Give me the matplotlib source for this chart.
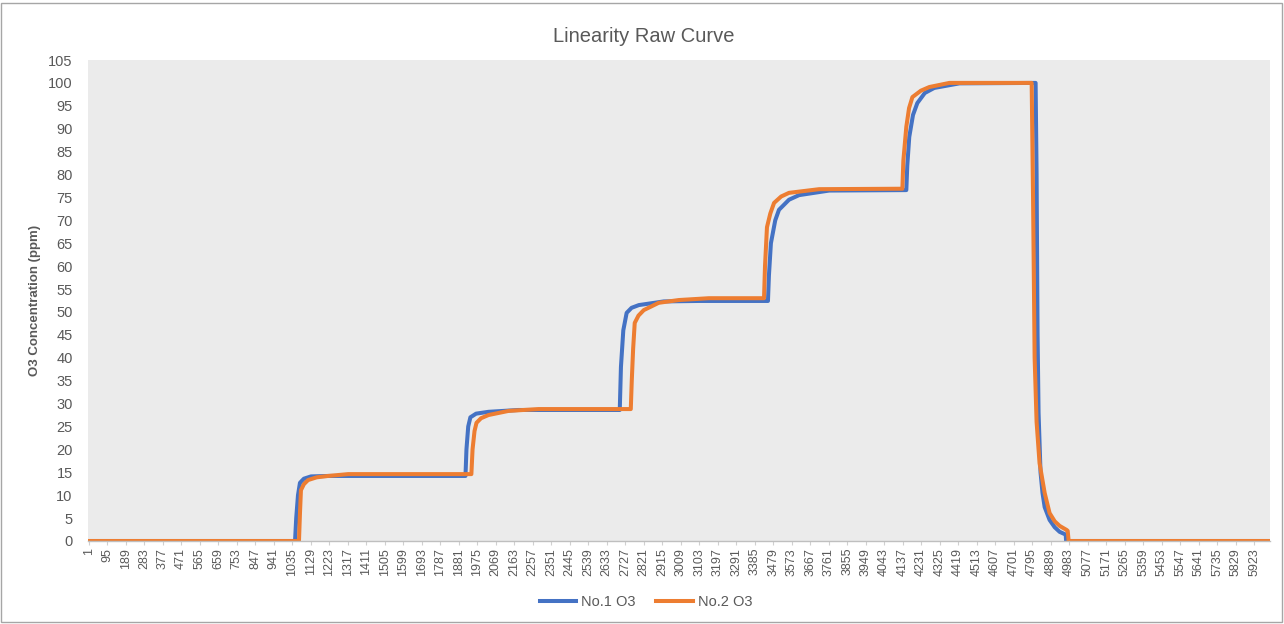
import matplotlib
matplotlib.use("Agg")
import matplotlib.pyplot as plt
from matplotlib.patches import Rectangle

# ---------------------------------------------------------------------------
# Data (sample index, O3 ppm)
# ---------------------------------------------------------------------------
n_samples = 6000

no1_idx = [1, 1050, 1056, 1065, 1075, 1095, 1131, 1218, 1916, 1921, 1930, 1941,
           1970, 2033, 2185, 2700, 2706, 2718, 2735, 2760, 2797, 2924, 3102,
           3453, 3458, 3468, 3490, 3509, 3560, 3611, 3764, 4156, 4161, 4171,
           4190, 4212, 4250, 4298, 4426, 4813, 4818, 4823, 4828, 4838, 4848,
           4859, 4884, 4910, 4935, 4966, 4968, n_samples]
no1_val = [0, 0, 5, 10, 12.7, 13.6, 14.1, 14.2, 14.2, 20, 25, 27,
           27.8, 28.2, 28.6, 28.6, 38, 46, 49.8, 50.9, 51.5, 52.3, 52.4,
           52.4, 58, 65, 70, 72.3, 74.5, 75.5, 76.5, 76.6, 82, 88.2,
           93, 95.6, 97.8, 98.9, 99.9, 100, 80, 45, 28, 15, 10.5,
           7.4, 4.6, 3.0, 2.0, 1.4, 0, 0]

no2_idx = [1, 1070, 1075, 1080, 1095, 1116, 1160, 1218, 1320, 1946, 1952, 1962,
           1972, 1995, 2033, 2135, 2287, 2756, 2761, 2768, 2776, 2795, 2822,
           2898, 3000, 3153, 3433, 3438, 3448, 3465, 3484, 3520, 3560, 3713,
           4136, 4141, 4156, 4170, 4187, 4230, 4273, 4375, 4793, 4800, 4808,
           4818, 4833, 4859, 4884, 4910, 4935, 4971, 4976, 4981, n_samples]
no2_val = [0, 0, 6, 11.1, 12.4, 13.3, 13.9, 14.2, 14.6, 14.6, 20, 24,
           25.8, 26.8, 27.5, 28.4, 28.8, 28.8, 35, 42, 47.6, 49.2, 50.4,
           52.0, 52.6, 53.0, 53.0, 60, 68.5, 71.5, 73.8, 75.2, 76.0, 76.8,
           76.9, 83, 90.4, 94.5, 96.9, 98.3, 99.1, 100, 100, 75, 40,
           26, 17, 10.5, 6.1, 4.3, 3.3, 2.4, 2.2, 0, 0]

tick_labels = list(range(1, n_samples, 94))

BLUE = "#4472C4"
ORANGE = "#ED7D31"
TEXT = "#595959"

plt.rcParams["font.family"] = ["Liberation Sans", "DejaVu Sans"]

fig = plt.figure(figsize=(12.84, 6.24), dpi=100)
ax = fig.add_axes([88 / 1284, 1 - 541 / 624, (1270 - 88) / 1284, (541 - 60) / 624])
ax.set_facecolor("#EBEBEB")

ax.plot(no1_idx, no1_val, color=BLUE, linewidth=2.9, label="No.1 O3",
        solid_joinstyle="round")
ax.plot(no2_idx, no2_val, color=ORANGE, linewidth=2.9, label="No.2 O3",
        solid_joinstyle="round")

ax.set_xlim(-2, n_samples + 4)
ax.set_ylim(0, 105)
ax.set_yticks(range(0, 106, 5))
ax.set_xticks(tick_labels)
ax.set_xticklabels([str(t) for t in tick_labels], rotation=90)
ax.tick_params(axis="x", length=3, color="#D0D0D0", labelsize=9,
               labelcolor=TEXT, pad=2)
ax.tick_params(axis="y", length=0, labelsize=10.5, labelcolor=TEXT, pad=11)

for side in ("top", "right", "left"):
    ax.spines[side].set_visible(False)
ax.spines["bottom"].set_color("#BFBFBF")
ax.spines["bottom"].set_linewidth(1.0)

ax.set_ylabel("O3 Concentration (ppm)", fontsize=9.5, fontweight="bold",
              color=TEXT, labelpad=5)
fig.text(644 / 1284, 1 - 36 / 624, "Linearity Raw Curve",
         ha="center", va="center", fontsize=14.5, color=TEXT)

fig.legend(loc="center", bbox_to_anchor=(646 / 1284, 1 - 602 / 624),
           ncol=2, frameon=False, fontsize=10.5, labelcolor=TEXT,
           handlelength=2.5, columnspacing=1.4, handletextpad=0.35)

# thin outer chart border
fig.add_artist(Rectangle((1 / 1284, 2 / 624), 1281 / 1284, 619 / 624,
                         transform=fig.transFigure, fill=False,
                         edgecolor="#A6A6A6", linewidth=1.0))

fig.savefig("out.png", dpi=100)
